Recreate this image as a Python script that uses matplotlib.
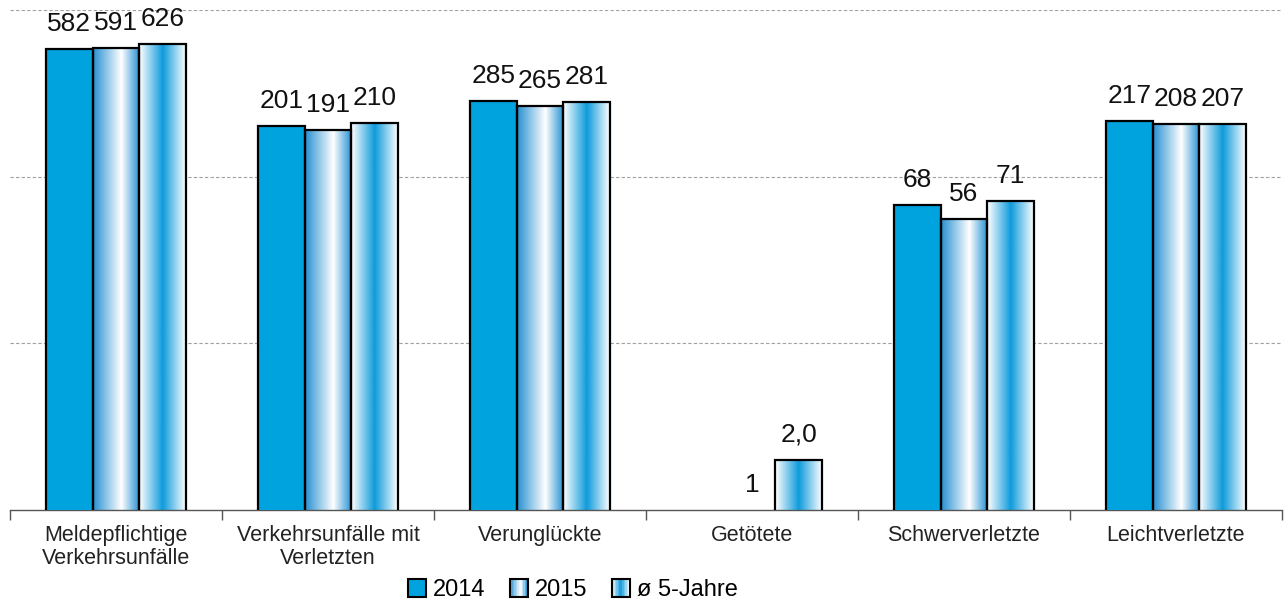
import matplotlib
matplotlib.use("Agg")
import matplotlib.pyplot as plt
import numpy as np
from matplotlib.colors import LinearSegmentedColormap
from matplotlib.patches import Rectangle
from matplotlib.legend_handler import HandlerBase

plt.rcParams['font.family'] = ['Liberation Sans', 'DejaVu Sans']

categories = ["Meldepflichtige\nVerkehrsunfälle", "Verkehrsunfälle mit\nVerletzten",
              "Verunglückte", "Getötete", "Schwerverletzte", "Leichtverletzte"]
v2014 = [582, 201, 285, np.nan, 68, 217]
v2015 = [591, 191, 265, 1, 56, 208]
v5jahre = [626, 210, 281, 2.0, 71, 207]
labels_5jahre = ["626", "210", "281", "2,0", "71", "207"]
series_names = ["2014", "2015", "ø 5-Jahre"]

blue = '#00A3DD'
cmap_2015 = LinearSegmentedColormap.from_list(
    "g15", [(0, '#2A92D3'), (0.6, '#FFFFFF'), (1, '#1E8FD2')])
cmap_5j = LinearSegmentedColormap.from_list(
    "g5j", [(0, '#FFFFFF'), (0.5, '#0F9BDB'), (1, '#FFFFFF')])

fig = plt.figure(figsize=(12.87, 6.06), dpi=100)
ax = fig.add_axes([0.0078, 0.1584, 0.9883, 0.8251])
ax.set_yscale('log')
n = len(categories)

x = np.arange(n) + 0.5
w = 0.22
grad = np.linspace(0, 1, 256).reshape(1, -1)


def gradient_bars(xs, vals, cmap):
    bars = ax.bar(xs, vals, w, facecolor='none', edgecolor='black',
                  linewidth=1.6, zorder=3)
    for b, v in zip(bars, vals):
        if np.isnan(v) or v <= 1:
            b.set_edgecolor('none')
            continue
        x0 = b.get_x()
        im = ax.imshow(grad, cmap=cmap, aspect='auto', interpolation='bilinear',
                       extent=[x0, x0 + w, 1, v], zorder=2)
        im.set_clip_path(b)
    return bars


ax.bar(x - w, v2014, w, color=blue, edgecolor='black', linewidth=1.6, zorder=3)
gradient_bars(x, v2015, cmap_2015)
gradient_bars(x + w, v5jahre, cmap_5j)
ax.set_xlim(0, n)
ax.set_ylim(1, 1000)

for i in range(n):
    for dx, v, s in [(-w, v2014[i], None), (0, v2015[i], None), (w, v5jahre[i], labels_5jahre[i])]:
        if np.isnan(v):
            continue
        txt = s if s is not None else f"{v:.0f}"
        ax.annotate(txt, (x[i] + dx, v), xytext=(0, 18), textcoords='offset points',
                    ha='center', va='center', fontsize=19, color='#111111')

ax.set_yticks([10, 100, 1000])
ax.yaxis.set_minor_locator(matplotlib.ticker.NullLocator())
ax.tick_params(axis='y', left=False, labelleft=False)
ax.grid(axis='y', color='#A0A0A0', linestyle=(0, (3, 2)), linewidth=0.8)
ax.set_axisbelow(True)

ax.set_xticks(x)
ax.set_xticklabels(categories, fontsize=15.5, color='#222222', linespacing=1.1)
ax.set_xticks(np.arange(n + 1), minor=True)
ax.tick_params(axis='x', which='major', length=0, pad=11)
ax.tick_params(axis='x', which='minor', length=7, color='#555555', width=1, direction='out')

for s in ['top', 'right', 'left']:
    ax.spines[s].set_visible(False)
ax.spines['bottom'].set_color('#555555')
ax.spines['bottom'].set_linewidth(1)


class GradHandler(HandlerBase):
    def __init__(self, cmap=None, color=None):
        super().__init__()
        self.cmap = cmap
        self.color = color

    def create_artists(self, legend, orig_handle, xdescent, ydescent, width, height, fontsize, trans):
        s = height
        x0 = -xdescent + (width - s) / 2
        y0 = -ydescent
        arts = []
        if self.cmap is None:
            arts.append(Rectangle((x0, y0), s, s, facecolor=self.color, edgecolor='none', transform=trans))
        else:
            k = 12
            for j in range(k):
                arts.append(Rectangle((x0 + s * j / k, y0), s / k + 0.2, s,
                                      facecolor=self.cmap((j + 0.5) / k), edgecolor='none',
                                      transform=trans))
        arts.append(Rectangle((x0, y0), s, s, facecolor='none', edgecolor='black',
                              linewidth=1.5, transform=trans))
        return arts


h1, h2, h3 = Rectangle((0, 0), 1, 1), Rectangle((0, 0), 1, 1), Rectangle((0, 0), 1, 1)
fig.legend([h1, h2, h3], series_names, loc='center', bbox_to_anchor=(0.445, 0.027),
           ncol=3, frameon=False, fontsize=17, handlelength=0.8, handleheight=0.8,
           handletextpad=0.3, columnspacing=1.0,
           handler_map={h1: GradHandler(color=blue), h2: GradHandler(cmap=cmap_2015),
                        h3: GradHandler(cmap=cmap_5j)})

fig.savefig("out.png", dpi=100)
